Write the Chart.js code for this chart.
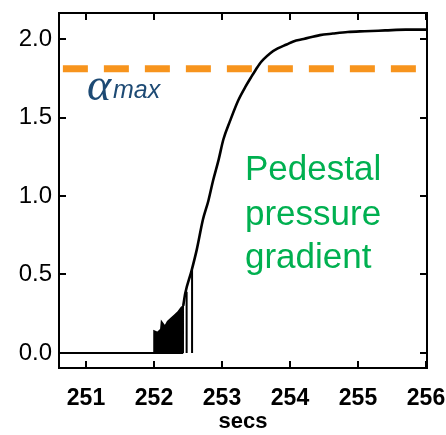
<!DOCTYPE html>
<html><head><meta charset="utf-8">
<script src="https://cdn.jsdelivr.net/npm/chart.js@4/dist/chart.umd.min.js"></script>
<style>html,body{margin:0;padding:0;background:#fff}#wrap{width:446px;height:435px}</style>
</head><body><div id="wrap"><canvas id="c" width="446" height="435"></canvas></div>
<script>
// ---- data ----
const xTickValues = [251, 252, 253, 254, 255, 256];
const yTickValues = [0, 0.5, 1.0, 1.5, 2.0];
const xTitle = 'secs';

// main rising trace
const curveSecs = [252.43, 252.46, 252.55, 252.63, 252.72, 252.80, 252.87, 252.95, 253.02, 253.12,
  253.24, 253.35, 253.44, 253.49, 253.55, 253.61, 253.71, 253.82, 253.95, 254.05, 254.20, 254.44,
  254.63, 254.85, 255.10, 255.40, 255.70, 256.0];
const curveValues = [0.30, 0.38, 0.52, 0.66, 0.85, 0.97, 1.10, 1.23, 1.36, 1.48,
  1.61, 1.70, 1.765, 1.80, 1.84, 1.87, 1.91, 1.94, 1.965, 1.985, 2.00, 2.025,
  2.035, 2.045, 2.05, 2.055, 2.06, 2.06];

// flat baseline and isolated spikes (null = break)
const spikeSecs = [250.6, 252.43, 252.45, 252.48, 252.48, 252.52, 252.56, 252.56];
const spikeValues = [0, 0, null, 0, 0.39, null, 0, 0.53];

// dense burst region (filled to zero)
const burstSecs = [252.0, 252.0, 252.05, 252.10, 252.11, 252.16, 252.20, 252.25, 252.30, 252.35, 252.40, 252.43, 252.43];
const burstValues = [0, 0.14, 0.13, 0.15, 0.20, 0.17, 0.20, 0.22, 0.24, 0.26, 0.29, 0.30, 0];

const alphaMax = 1.81;
const alphaSecs = [250.66, 255.93];

const alphaLabel = ['\u03B1', 'max'];
const noteLines = ['Pedestal', 'pressure', 'gradient'];

// ---- chart ----
const pts = (xs, ys) => xs.map((x, i) => ({x: x, y: ys[i]}));
const noPad = s => { s.paddingTop = 0; s.paddingBottom = 0; s.paddingLeft = 0; s.paddingRight = 0; };

const framePlugin = {
  id: 'frame',
  afterDatasetsDraw(chart) {
    const {ctx, chartArea: a, scales: {x, y}} = chart;
    ctx.save();
    ctx.strokeStyle = '#000';
    ctx.lineWidth = 2;
    ctx.strokeRect(a.left, a.top, a.right - a.left, a.bottom - a.top);
    ctx.beginPath();
    const tl = 7;
    xTickValues.forEach(v => {
      const px = Math.round(x.getPixelForValue(v));
      ctx.moveTo(px, a.bottom); ctx.lineTo(px, a.bottom - tl);
      ctx.moveTo(px, a.top); ctx.lineTo(px, a.top + tl);
    });
    yTickValues.forEach(v => {
      const py = Math.round(y.getPixelForValue(v));
      ctx.moveTo(a.left, py); ctx.lineTo(a.left + tl, py);
      ctx.moveTo(a.right, py); ctx.lineTo(a.right - tl, py);
    });
    ctx.stroke();

    // alpha_max label
    ctx.fillStyle = '#1d4a74';
    ctx.textBaseline = 'alphabetic';
    ctx.textAlign = 'left';
    ctx.font = 'italic 46px "Liberation Serif"';
    ctx.fillText(alphaLabel[0], a.left + 28, 100);
    ctx.font = 'italic 25px "Liberation Sans"';
    ctx.fillText(alphaLabel[1], a.left + 54, 98);

    // note
    ctx.fillStyle = '#00b050';
    ctx.font = '35px "Liberation Sans"';
    const base = [180, 225, 268];
    noteLines.forEach((t, i) => ctx.fillText(t, 245, base[i]));
    ctx.restore();
  }
};

new Chart(document.getElementById('c'), {
  type: 'line',
  data: {
    datasets: [
      {data: pts(curveSecs, curveValues), borderColor: '#000', borderWidth: 2.6, pointRadius: 0, cubicInterpolationMode: 'monotone', fill: false},
      {data: pts(spikeSecs, spikeValues), borderColor: '#000', borderWidth: 2, pointRadius: 0, tension: 0, spanGaps: false, fill: false},
      {data: pts(burstSecs, burstValues), borderColor: '#000', backgroundColor: '#000', borderWidth: 1.5, pointRadius: 0, tension: 0, fill: 'origin'},
      {data: pts(alphaSecs, [alphaMax, alphaMax]), borderColor: '#f7941d', borderWidth: 7, borderDash: [25, 16], borderCapStyle: 'butt', pointRadius: 0, fill: false}
    ]
  },
  options: {
    responsive: false,
    devicePixelRatio: 1,
    animation: false,
    layout: {padding: {top: 13, right: 19, left: 0, bottom: 0}},
    plugins: {legend: {display: false}, tooltip: {enabled: false}},
    scales: {
      x: {
        type: 'linear', min: 250.603, max: 256.015,
        afterBuildTicks: s => { s.ticks = xTickValues.map(v => ({value: v})); },
        afterFit: s => { s.height = 67; noPad(s); },
        grid: {display: false, drawTicks: false},
        border: {display: false},
        ticks: {autoSkip: false, maxRotation: 0, padding: 17, color: '#000',
          font: {family: '"Liberation Sans"', size: 23, weight: 'bold'},
          callback: v => String(v)},
        title: {display: true, text: xTitle, color: '#000', padding: {top: 0, bottom: 0},
          font: {family: '"Liberation Sans"', size: 22, weight: 'bold'}}
      },
      y: {
        type: 'linear', min: -0.096, max: 2.166,
        afterBuildTicks: s => { s.ticks = yTickValues.map(v => ({value: v})); },
        afterFit: s => { s.width = 59; noPad(s); },
        grid: {display: false, drawTicks: false},
        border: {display: false},
        ticks: {autoSkip: false, padding: 7, color: '#000',
          font: {family: '"Liberation Sans"', size: 24},
          callback: v => Number(v).toFixed(1)}
      }
    }
  },
  plugins: [framePlugin]
});
</script>
</body></html>
